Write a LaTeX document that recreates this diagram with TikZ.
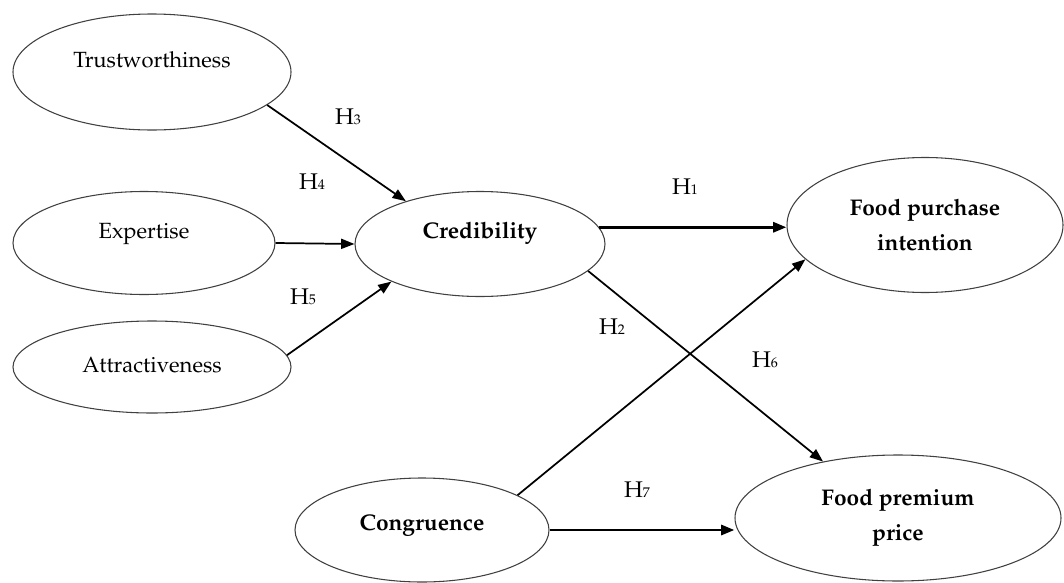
\documentclass[tikz,border=0pt]{standalone}
\usepackage[T1]{fontenc}
\usepackage{mathpazo}
\usetikzlibrary{shapes.geometric,arrows.meta}

\newcommand{\hypo}[1]{H{\fontsize{10.5}{10.5}\selectfont #1}}

\begin{document}
\begin{tikzpicture}[x=0.75pt,y=-0.75pt,
  construct/.style 2 args={ellipse,draw=black!75,line width=0.8pt,minimum width=#1*0.75pt,minimum height=#2*0.75pt,inner sep=0pt,align=center,font=\fontsize{16.5}{19}\selectfont},
  outcome/.style={font=\fontsize{17}{26}\selectfont\bfseries},
  link/.style={-{Triangle[length=10pt,width=7.5pt]},line width=1.3pt},
  strong/.style={link,line width=2.2pt},
  hyp/.style={font=\fontsize{17}{20}\selectfont,inner sep=1pt}]
\useasboundingbox (0,0) rectangle (1064,582);
\node[construct={278}{116},text depth=19pt] (trust) at (152,72) {Trustworthiness};
\node[construct={262}{103},text depth=18pt] (expert) at (144,243) {Expertise};
\node[construct={278}{92},text depth=3pt] (attract) at (152,367) {Attractiveness};
\node[construct={250}{105},outcome,text depth=20pt] (cred) at (480,244) {Credibility};
\node[construct={276}{135},outcome] (fpi) at (925,225) {Food purchase\\intention};
\node[construct={254}{104},outcome,text depth=11pt] (cong) at (422,530) {Congruence};
\node[construct={326}{126},outcome] (fpp) at (898,518) {Food premium\\price};

\draw[link] (trust.-16) -- (cred.150);
\draw[link] (expert.east) -- (cred.west);
\draw[link] (attract.5) -- (cred.203);
\draw[strong] (cred.8) -- (cred.8 -| fpi.west);
\draw[link] (cred.-14) -- (fpp.143);
\draw[link] (cong.20) -- (fpi.196);
\draw[strong] (cong.east) -- (cong.east -| fpp.west);

\node[hyp] (h3) at (348,117) {\hypo{3}};
\node[hyp] (h4) at (312,182) {\hypo{4}};
\node[hyp] (h5) at (303,297) {\hypo{5}};
\node[hyp] (h1) at (685,187) {\hypo{1}};
\node[hyp] (h2) at (612,327) {\hypo{2}};
\node[hyp] (h6) at (765,360) {\hypo{6}};
\node[hyp] (h7) at (637,490) {\hypo{7}};
\end{tikzpicture}
\end{document}
